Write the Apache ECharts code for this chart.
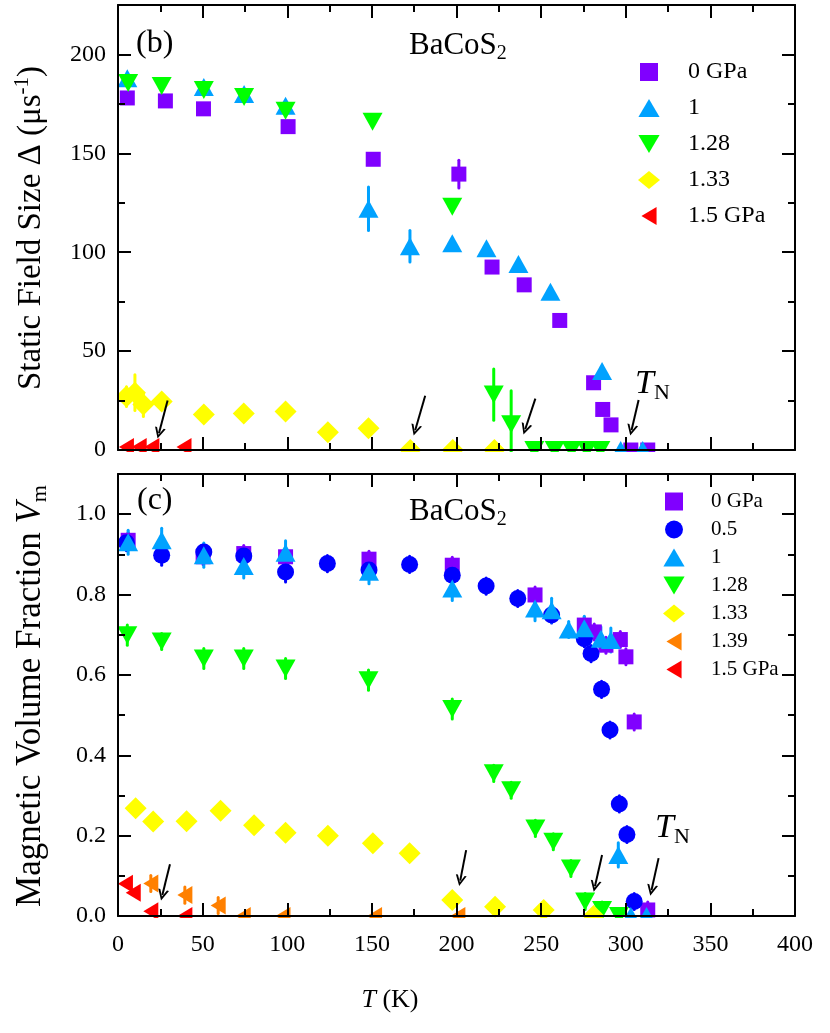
<!DOCTYPE html>
<html><head><meta charset="utf-8">
<script src="https://cdn.jsdelivr.net/npm/echarts@6/dist/echarts.min.js"></script>
<style>html,body{margin:0;padding:0;background:#fff}#c{width:830px;height:1033px}</style>
</head><body><div id="c"></div>
<script>
// ---------- data: [T (K), value, error] ----------
// panel (b): static field size Delta (us^-1)
const topP0   = [[5.5,178],[28,176.5],[50.5,172.5],[100.5,163.5],[150.8,147],[201.4,139.5,7],[221,92.5],[240,83.5],[261,65.5],[281,34],[286.4,20.5],[291.3,12.7],[303,0],[313,0]];
const topP1   = [[5.5,188],[50.7,183.5],[74.5,180],[99,174],[148,122,11],[172.5,103,8],[197.5,104.5],[217.7,102],[236.6,94],[255.5,80],[286,40],[297,0],[310,0]];
const topP128 = [[6,185.5],[25.8,184],[50.7,182],[74.5,178.5],[99,171.5],[150.4,166],[197.5,123],[222,28,13],[232.3,13,17],[246,0],[258,0],[268,0],[277,0],[285,0]];
const topP133 = [[5,27,5],[10,29,9],[15,23,6],[25.8,24.5],[50.7,18],[74.3,18.5],[99,19.5],[124,9],[148,11],[172.7,0],[197.8,0],[222.4,0]];
const topP15  = [[5,1.5],[12.5,1.5],[20,1.5],[39,1.5]];
// panel (c): magnetic volume fraction Vm
const botP0   = [[6,0.935,0.02],[50.3,0.894,0.02],[74.3,0.902,0.02],[99,0.894,0.02],[148.3,0.888,0.02],[197.5,0.873,0.02],[246.4,0.799,0.02],[275.5,0.724,0.02],[281.4,0.707,0.02],[288.3,0.674,0.02],[296.8,0.688,0.02],[300.1,0.645,0.02],[305,0.483,0.02],[313,0.015,0.02]];
const botP05  = [[5,0.929,0.02],[25.8,0.898,0.025],[50.7,0.906,0.02],[74.3,0.896,0.02],[99,0.856,0.025],[123.7,0.877,0.02],[148.3,0.861,0.02],[172.3,0.875,0.02],[197.5,0.848,0.02],[217.5,0.821,0.02],[236.2,0.79,0.02],[256.2,0.749,0.02],[275.5,0.69,0.02],[279.5,0.653,0.02],[285.7,0.564,0.02],[290.7,0.463,0.02],[296.2,0.279,0.02],[300.7,0.203,0.02],[305,0.036,0.02]];
const botP1   = [[6,0.93,0.03],[25.8,0.935,0.03],[50.7,0.898,0.03],[74.3,0.871,0.03],[99,0.904,0.03],[148.3,0.857,0.03],[197.5,0.815,0.03],[246.4,0.765,0.03],[256.2,0.761,0.03],[266.3,0.713,0.02],[275.5,0.716,0.03],[285.3,0.69,0.03],[291.2,0.687,0.03],[295.6,0.152,0.03],[303,0],[312.3,0]];
const botP128 = [[5.5,0.699,0.025],[25.8,0.683,0.02],[50.7,0.641,0.025],[74.3,0.641,0.025],[99,0.616,0.025],[148,0.587,0.025],[197.5,0.515,0.025],[222,0.355,0.02],[232.3,0.313,0.02],[246.6,0.218,0.02],[257.2,0.185,0.02],[267.6,0.118,0.02],[276,0.036,0.02],[286,0.015,0.02],[296,0]];
const botP133 = [[10.4,0.268,0.02],[20.8,0.235],[40.5,0.236,0.02],[60.6,0.262,0.02],[80.4,0.226,0.02],[99,0.207,0.02],[124,0.2,0.02],[150.6,0.181,0.02],[172.3,0.156],[197.5,0.04,0.02],[222.8,0.023],[251.5,0.015,0.01],[281,0]];
const botP139 = [[19.4,0.081,0.02],[39.5,0.052,0.02],[59.2,0.026,0.02],[74,0],[97.5,0],[151.6,0],[200.8,0]];
const botP15  = [[4.4,0.08],[9,0.058],[19.4,0.012],[39.5,0]];
// arrows [T start, value start, T tip, value tip]
const arrowsTop = [[29.3,25,24.2,8.5],[181.5,27.4,175.6,10],[246.6,26,240.6,10.5],[307.6,25.3,303.4,10]];
const arrowsBot = [[30.7,0.129,26.2,0.052],[205.7,0.164,202.2,0.088],[286,0.152,281.8,0.074],[319.4,0.144,315.2,0.064]];
const legendTop = ['0 GPa','1','1.28','1.33','1.5 GPa'];
const legendBot = ['0 GPa','0.5','1','1.28','1.33','1.39','1.5 GPa'];

const F = 'Liberation Serif';
const C = {p0:'#8000FF', p05:'#0000FF', p1:'#00A2FF', p128:'#00FF00', p133:'#FFFF00', p139:'#FF8000', p15:'#FF0000'};
const SYM = {
  p0:{symbol:'rect', size:15, rot:0, icon:'path://M0,0 L15,0 L15,15 L0,15 Z'},
  p05:{symbol:'circle', size:17, rot:0, icon:'circle'},
  p1:{symbol:'triangle', size:[20,18], rot:0, icon:'path://M10,0 L20,17 L0,17 Z'},
  p128:{symbol:'triangle', size:[20,18], rot:180, icon:'path://M0,0 L20,0 L10,17 Z'},
  p133:{symbol:'diamond', size:[22,22], rot:0, icon:'diamond'},
  p139:{symbol:'triangle', size:[18,15], rot:90, icon:'path://M16,0 L16,19 L0,9.5 Z'},
  p15:{symbol:'triangle', size:[18,15], rot:90, icon:'path://M16,0 L16,19 L0,9.5 Z'}
};
const NAME2KEY = {'0 GPa':'p0','0.5':'p05','1':'p1','1.28':'p128','1.33':'p133','1.39':'p139','1.5 GPa':'p15'};

function errSeries(data, color, xi, yi){
  return {type:'custom', xAxisIndex:xi, yAxisIndex:yi, silent:true, z:2,
    data: data.filter(d=>d[2]),
    encode:{x:0,y:1},
    renderItem:function(params, api){
      const x=api.value(0), y=api.value(1), e=api.value(2);
      const a=api.coord([x,y+e]), b=api.coord([x,y-e]);
      return {type:'line', shape:{x1:a[0],y1:a[1],x2:b[0],y2:b[1]}, style:{stroke:color, lineWidth:3, lineCap:'round'}};
    }};
}
function sc(name, key, data, xi, yi){
  const s=SYM[key];
  return {type:'scatter', name:name, xAxisIndex:xi, yAxisIndex:yi, data:data.map(d=>[d[0],d[1]]),
    symbol:s.symbol, symbolSize:s.size, symbolRotate:s.rot, z:2,
    itemStyle:{color:C[key], opacity:1}, emphasis:{disabled:true}, silent:true, clip:false};
}
function arrowSeries(arr, xi, yi){
  return {type:'line', xAxisIndex:xi, yAxisIndex:yi, data:[], silent:true, z:3,
    markLine:{silent:true, animation:false,
      symbol:['none','path://M5,0 L9.5,10 L7.8,10 L5,3.6 L2.2,10 L0.5,10 Z'], symbolSize:11,
      label:{show:false}, lineStyle:{color:'#000', width:2, type:'solid'},
      data: arr.map(a=>[{coord:[a[0],a[1]]},{coord:[a[2],a[3]]}])}};
}
function xAx(grid, pos, labels){
  return {type:'value', gridIndex:grid, position:pos, min:0, max:400, interval:50, z:100,
    axisLine:{show:true, onZero:false, lineStyle:{color:'#000', width:2}},
    axisTick:{show:true, inside:true, length:13, lineStyle:{color:'#000', width:2}},
    minorTick:{show:true, splitNumber:2, length:7, lineStyle:{color:'#000', width:2}},
    splitLine:{show:false}, minorSplitLine:{show:false},
    axisLabel:{show:labels, margin:17, color:'#000', fontFamily:F, fontSize:24}};
}
function yAx(grid, pos, max, interval, labels, len, line, fmt){
  return {type:'value', gridIndex:grid, position:pos, min:0, max:max, interval:interval, z:100,
    axisLine:{show:line, onZero:false, lineStyle:{color:'#000', width:2}},
    axisTick:{show:true, inside:true, length:len, lineStyle:{color:'#000', width:2}},
    splitLine:{show:false},
    axisLabel:{show:labels, showMaxLabel:false, margin:12, color:'#000', fontFamily:F, fontSize:24, formatter:fmt}};
}
const fTop = v=>String(Math.round(v));
const fBot = v=>v.toFixed(1);

function legendItems(names){ return names.map(n=>({name:n, icon:SYM[NAME2KEY[n]].icon})); }
function legend(names, left, top, fs, gap, pad){
  return {data:legendItems(names), orient:'vertical', left:left, top:top, itemWidth:22, itemHeight:18,
    itemGap:gap, padding:0, selectedMode:false,
    textStyle:{fontFamily:F, fontSize:fs, color:'#000', lineHeight:fs, padding:[0,0,0,pad]}};
}

const rich = {
  a:{fontFamily:F, fontSize:26, lineHeight:30, color:'#000'},
  i:{fontFamily:F, fontSize:26, lineHeight:30, fontStyle:'italic', color:'#000'},
  yA:{fontFamily:F, fontSize:33, lineHeight:36, color:'#000'},
  ySup:{fontFamily:F, fontSize:21, lineHeight:21, padding:[0,0,17,0], color:'#000'},
  zA:{fontFamily:F, fontSize:35, lineHeight:38, color:'#000'},
  zI:{fontFamily:F, fontSize:35, lineHeight:38, fontStyle:'italic', color:'#000'},
  zSub:{fontFamily:F, fontSize:22, lineHeight:22, padding:[18,0,0,0], color:'#000'},
  big:{fontFamily:F, fontSize:32, lineHeight:36, color:'#000'},
  bA:{fontFamily:F, fontSize:31, lineHeight:34, color:'#000'},
  bSub:{fontFamily:F, fontSize:20, lineHeight:20, padding:[16,0,0,0], color:'#000'},
  tn:{fontFamily:F, fontSize:34, lineHeight:38, fontStyle:'italic', color:'#000'},
  tnSub:{fontFamily:F, fontSize:22, lineHeight:22, padding:[18,0,0,0], color:'#000'}
};
function txt(x, y, text, rot, align){
  const al = align||'center';
  return {type:'text', x:x, y:y, rotation:rot||0, z:60, silent:true,
    style:{text:text, rich:rich, fill:'#000', font:'26px "Liberation Serif"',
      align:al, verticalAlign:'middle', textAlign:al, textVerticalAlign:'middle'}};
}

const option = {
  animation:false,
  backgroundColor:'#fff',
  grid:[{left:118, top:5, width:677, height:445},{left:118, top:474, width:677, height:442}],
  xAxis:[xAx(0,'bottom',false), xAx(0,'top',false), xAx(1,'bottom',true), xAx(1,'top',false)],
  yAxis:[
    yAx(0,'left',225,50,true,13,true,fTop), yAx(0,'left',225,25,false,7,false,fTop),
    yAx(0,'right',225,50,false,13,true,fTop), yAx(0,'right',225,25,false,7,false,fTop),
    yAx(1,'left',1.1,0.2,true,13,true,fBot), yAx(1,'left',1.1,0.1,false,7,false,fBot),
    yAx(1,'right',1.1,0.2,false,13,true,fBot), yAx(1,'right',1.1,0.1,false,7,false,fBot)
  ],
  legend:[
    legend(legendTop, 638, 60, 24, 12, 23),
    legend(legendBot, 663, 491, 21, 7, 21)
  ],
  series:[
    errSeries(topP0,C.p0,0,0), sc('0 GPa','p0',topP0,0,0),
    errSeries(topP1,C.p1,0,0), sc('1','p1',topP1,0,0),
    errSeries(topP128,C.p128,0,0), sc('1.28','p128',topP128,0,0),
    errSeries(topP133,C.p133,0,0), sc('1.33','p133',topP133,0,0),
    sc('1.5 GPa','p15',topP15,0,0),
    arrowSeries(arrowsTop,0,0),
    errSeries(botP0,C.p0,2,4), sc('0 GPa','p0',botP0,2,4),
    errSeries(botP05,C.p05,2,4), sc('0.5','p05',botP05,2,4),
    errSeries(botP1,C.p1,2,4), sc('1','p1',botP1,2,4),
    errSeries(botP128,C.p128,2,4), sc('1.28','p128',botP128,2,4),
    errSeries(botP133,C.p133,2,4), sc('1.33','p133',botP133,2,4),
    errSeries(botP139,C.p139,2,4), sc('1.39','p139',botP139,2,4),
    sc('1.5 GPa','p15',botP15,2,4),
    arrowSeries(arrowsBot,2,4)
  ],
  graphic:{elements:[
    {type:'rect', shape:{x:100, y:452, width:700, height:20}, style:{fill:'#fff'}, z:50, silent:true},
    {type:'rect', shape:{x:100, y:918, width:700, height:13}, style:{fill:'#fff'}, z:50, silent:true},
    {type:'rect', shape:{x:109, y:0, width:8, height:930}, style:{fill:'#fff'}, z:50, silent:true},
    txt(136, 44, '{big|(b)}', 0, 'left'),
    txt(409, 46, '{bA|BaCoS}{bSub|2}', 0, 'left'),
    txt(137, 501, '{big|(c)}', 0, 'left'),
    txt(409, 512, '{bA|BaCoS}{bSub|2}', 0, 'left'),
    txt(635, 384, '{tn|T}{tnSub|N}', 0, 'left'),
    txt(655, 828, '{tn|T}{tnSub|N}', 0, 'left'),
    txt(390, 1000, '{i|T}{a| (K)}'),
    txt(31, 228, '{yA|Static Field Size Δ (μs}{ySup|-1}{yA|)}', Math.PI/2),
    txt(31, 696, '{zA|Magnetic Volume Fraction }{zI|V}{zSub|m}', Math.PI/2)
  ]}
};
const chart = echarts.init(document.getElementById('c'), null, {renderer:'canvas'});
chart.setOption(option);
</script>
</body></html>
